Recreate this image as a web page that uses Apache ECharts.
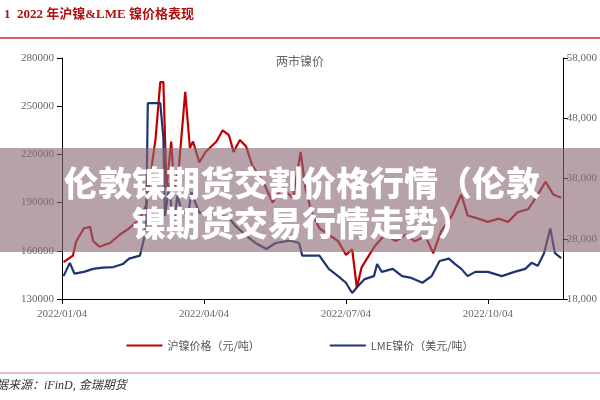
<!DOCTYPE html>
<html>
<head>
<meta charset="utf-8">
<script src="https://cdn.jsdelivr.net/npm/echarts@6/dist/echarts.min.js"></script>
<style>html,body{margin:0;padding:0;background:#fff}#c{width:600px;height:400px}</style>
</head>
<body>
<div id="c"></div>
<script>
// 天数（自2022/01/04起）与价格
var shDays = [1,7,9,14,18,20,24,31,37,43,50,54,57,60,63,65,67,70,72,75,79,82,84,88,92,99,103,107,110,114,118,122,129,135,141,148,153,156,160,165,171,177,182,186,189,192,197,201,207,214,220,226,233,238,243,250,256,260,267,273,280,286,292,299,305,310,315,320];
var shPrice = [153000,157000,165600,174000,175000,166000,162500,165000,170000,174000,180000,188500,209000,230000,265000,265000,199000,228000,199000,213000,259000,224000,228000,215000,221500,228000,235000,232000,221500,229000,225000,213000,203000,190000,199000,193000,221500,199000,184000,174000,170000,166000,157500,161000,137000,149500,157500,163500,170000,166000,170000,166000,169000,158500,172000,182000,195000,182000,180000,178000,180000,178000,184000,186000,195000,203000,195000,193000];
var lmeDays = [1,5,8,14,20,26,33,39,43,50,53,54,55,63,65,66,69,71,74,77,81,83,88,94,101,107,111,118,124,131,137,146,152,154,160,165,171,177,182,186,190,194,200,202,205,212,218,224,231,237,242,248,252,256,260,265,273,282,290,297,301,305,309,313,316,320];
var lmePrice = [21800,24000,22200,22500,23000,23200,23300,23800,24700,25200,28500,31200,50500,50500,44700,31800,37300,29000,35200,32300,32300,35700,32300,32300,31800,31500,30200,28500,27300,26300,27300,27700,27300,25200,25200,25200,23000,21800,20700,19000,20200,21300,21800,23800,22500,23000,21800,21500,20700,21800,24300,24700,23800,23000,21800,22500,22500,21800,22500,23000,24000,23500,25600,29700,25600,24800];
var xLabels = ['2022/01/04','2022/04/04','2022/07/04','2022/10/04'];

function pairs(d, v){
    var out = [];
    for(var i=0;i<d.length;i++){ out.push([d[i], v[i]]); }
    return out;
}

var chart = echarts.init(document.getElementById('c'));
var axisTxt = {color:'#666', fontFamily:'Liberation Serif', fontSize:11};
chart.setOption({
    animation:false,
    title:{text:'两市镍价', left:'center', top:50, textStyle:{color:'#666', fontSize:12, fontWeight:'normal', fontFamily:'Noto Sans CJK SC'}},
    grid:{left:62, right:35, top:58, bottom:101},
    legend:{
        bottom:44, itemGap:70, itemWidth:36, itemHeight:2, icon:'rect',
        textStyle:{color:'#555', fontSize:11, fontFamily:'Noto Sans CJK SC'},
        data:['沪镍价格（元/吨）','LME镍价（美元/吨）']
    },
    xAxis:{
        type:'value', min:0, max:321, interval:91,
        splitLine:{show:false},
        axisLine:{lineStyle:{color:'#000'}},
        axisTick:{lineStyle:{color:'#000'}},
        axisLabel:Object.assign({showMaxLabel:false, margin:10, formatter:function(v){return xLabels[Math.round(v/91)] || '';}}, axisTxt)
    },
    yAxis:[{
        type:'value', min:130000, max:280000, interval:30000,
        splitLine:{show:false},
        axisLine:{show:true, lineStyle:{color:'#000'}},
        axisTick:{show:true, lineStyle:{color:'#000'}},
        axisLabel:Object.assign({margin:8, formatter:function(v){return String(v);}}, axisTxt)
    },{
        type:'value', min:18000, max:58000, interval:10000,
        splitLine:{show:false},
        axisLine:{show:true, lineStyle:{color:'#000'}},
        axisTick:{show:true, lineStyle:{color:'#000'}},
        axisLabel:Object.assign({margin:4, formatter:function(v){return v.toLocaleString('en-US');}}, axisTxt)
    }],
    series:[{
        name:'沪镍价格（元/吨）', type:'line', yAxisIndex:0, showSymbol:false,
        data:pairs(shDays, shPrice), itemStyle:{color:'#c00000'}, lineStyle:{width:2.2, color:'#c00000'}
    },{
        name:'LME镍价（美元/吨）', type:'line', yAxisIndex:1, showSymbol:false,
        data:pairs(lmeDays, lmePrice), itemStyle:{color:'#1f3571'}, lineStyle:{width:2.2, color:'#1f3571'}
    }],
    graphic:[
        {type:'text', left:4, top:8, style:{text:'1  2022 年沪镍&LME 镍价格表现', fill:'#b01010', font:'bold 13px "Liberation Serif", "Noto Sans CJK SC"'}},
        {type:'line', shape:{x1:0, y1:38, x2:600, y2:38}, style:{stroke:'#c03030', lineWidth:1.5}},
        {type:'line', shape:{x1:0, y1:373, x2:600, y2:373}, style:{stroke:'#d08080', lineWidth:1}},
        {type:'text', left:-4, top:380, style:{text:'据来源：iFinD, 金瑞期货', fill:'#333', font:'italic 12px "Liberation Serif", "Noto Sans CJK SC"'}},
        {type:'rect', shape:{x:0, y:148, width:600, height:104}, style:{fill:'rgba(140,105,118,0.62)'}, z:100},
        {type:'text', x:302, y:183, z:101, style:{text:'伦敦镍期货交割价格行情（伦敦', fill:'#fff', align:'center', verticalAlign:'middle', font:'900 34px "Noto Sans CJK SC"'}},
        {type:'text', x:302, y:223, z:101, style:{text:'镍期货交易行情走势）', fill:'#fff', align:'center', verticalAlign:'middle', font:'900 34px "Noto Sans CJK SC"'}}
    ]
});
</script>
</body>
</html>
